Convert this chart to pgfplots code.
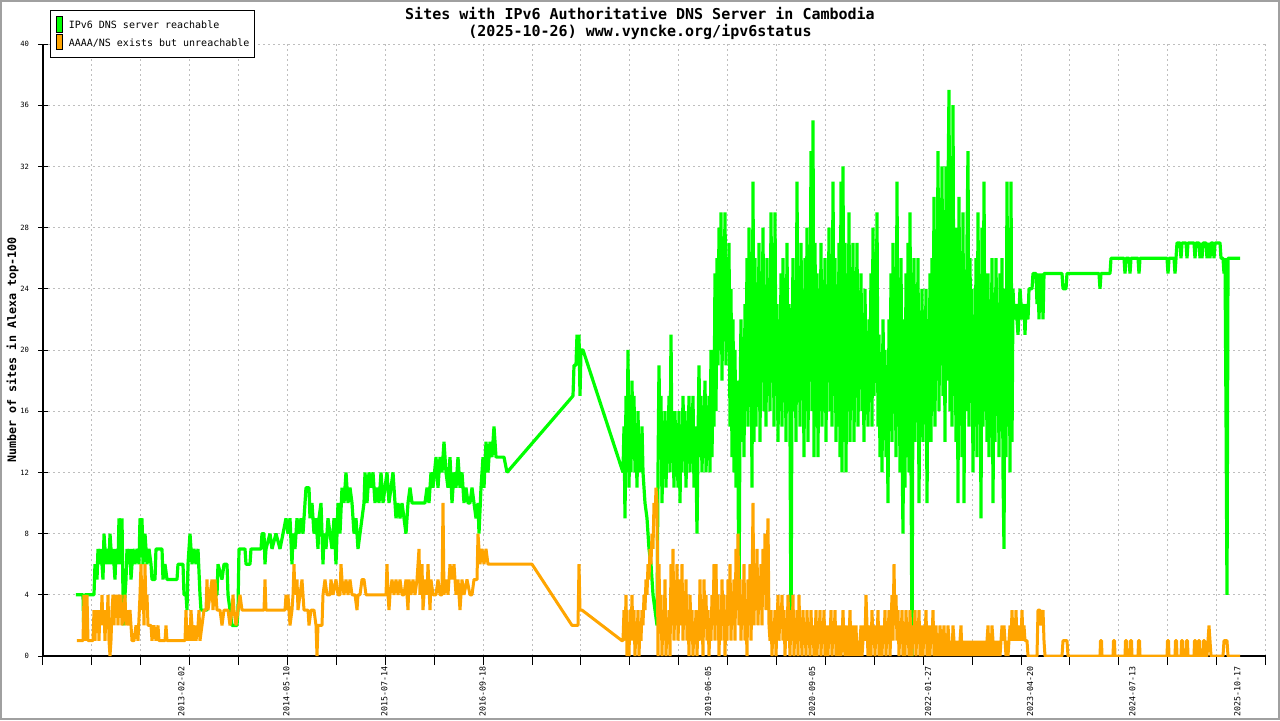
\documentclass[border=0pt]{standalone}
\usepackage{fontspec}
\setmainfont{DejaVu Sans Mono}
\usepackage{pgfplots}
\pgfplotsset{compat=1.18}
\usepackage{pgfplotstable}
\definecolor{dnsgreen}{RGB}{0,255,0}
\definecolor{dnsorange}{RGB}{255,165,0}
\definecolor{gridgray}{RGB}{190,190,190}
\definecolor{framegray}{RGB}{160,160,160}

% x = position on the time axis, y = number of sites
\pgfplotstableread[row sep=\\]{
x y\\
76 4\\ 83 4\\ 84 1\\ 85 4\\ 94 4\\ 95 6\\ 97 5\\ 98 7\\ 100 6\\ 101 7\\ 103 5\\ 104 8\\ 106 6\\ 107 7\\ 109 6\\ 110 8\\ 112 6\\ 113 7\\ 115 5\\ 116 7\\ 118 6\\ 119 9\\ 121 6\\ 122 9\\ 123 4\\ 124 2\\ 125 4\\ 126 5\\ 127 7\\ 129 6\\ 130 7\\ 131 5\\ 133 7\\ 135 6\\ 137 7\\ 139 6\\ 140 9\\ 141 8\\ 142 9\\ 143 6\\ 145 8\\ 147 6\\ 149 7\\ 151 6\\ 152 5\\ 155 5\\ 156 7\\ 162 7\\ 163 5\\ 165 6\\ 167 5\\ 177 5\\ 178 6\\ 183 6\\ 184 4\\ 186 4\\ 187 3\\ 188 6\\ 190 8\\ 192 6\\ 194 7\\ 196 6\\ 198 7\\ 200 4\\ 201 3\\ 207 3\\ 208 4\\ 217 4\\ 218 6\\ 222 5\\ 224 6\\ 227 6\\ 228 4\\ 230 3\\ 232 2\\ 237 2\\ 238 3\\ 239 7\\ 245 7\\ 246 6\\ 250 6\\ 251 7\\ 261 7\\ 262 8\\ 264 8\\ 265 6\\ 266 7\\ 270 8\\ 272 7\\ 276 8\\ 280 7\\ 283 8\\ 286 9\\ 288 8\\ 290 9\\ 292 6\\ 293 8\\ 295 7\\ 297 9\\ 299 8\\ 301 9\\ 303 8\\ 305 10\\ 306 11\\ 309 11\\ 310 9\\ 312 10\\ 314 8\\ 316 9\\ 318 7\\ 319 9\\ 321 10\\ 322 8\\ 323 6\\ 324 8\\ 326 7\\ 328 9\\ 330 8\\ 332 7\\ 334 9\\ 336 6\\ 337 8\\ 338 10\\ 340 8\\
342 11\\ 344 10\\ 346 12\\ 348 10\\ 350 11\\ 352 10\\ 354 8\\ 356 9\\ 358 7\\ 360 8\\ 362 9\\ 364 10\\ 365 12\\ 367 10\\ 369 12\\ 371 11\\ 373 12\\ 375 10\\ 377 11\\ 379 10\\ 381 12\\ 383 10\\ 385 11\\ 387 12\\ 389 10\\ 391 11\\ 393 12\\ 395 10\\ 396 9\\ 398 10\\ 400 9\\ 402 10\\ 404 9\\ 406 8\\ 408 10\\ 410 11\\ 412 10\\ 425 10\\ 427 11\\ 429 10\\ 431 12\\ 433 11\\ 436 13\\ 438 11\\ 440 13\\ 442 12\\ 444 14\\ 446 12\\ 448 11\\ 450 13\\ 452 10\\ 454 12\\ 456 11\\ 458 13\\ 460 11\\ 462 12\\ 464 10\\ 466 11\\ 468 10\\ 470 10\\ 472 11\\ 474 10\\ 476 9\\ 478 10\\ 479 8\\ 481 11\\ 483 13\\ 484 11\\ 486 14\\ 488 12\\ 490 14\\ 492 13\\ 494 15\\ 496 13\\ 504 13\\ 507 12\\
573 17\\ 574 19\\ 576 19\\ 577 21\\ 578 19\\ 579 21\\ 580 17\\ 581 20\\ 583 20\\ 623 12\\
624 15\\ 625 9\\ 626 17\\ 627 12\\ 628 20\\ 629 11\\ 630 16\\ 631 12\\ 632 18\\ 633 13\\ 634 17\\ 635 12\\ 636 15\\ 637 11\\ 638 16\\ 639 12\\ 640 14\\ 641 12\\ 642 15\\ 643 12\\ 645 10\\ 647 9\\ 649 7\\ 651 6\\ 653 4\\ 655 3\\ 657 2\\ 658 12\\ 659 19\\ 660 13\\
661 17\\ 662 10\\ 663 14\\ 664 12\\ 665 16\\ 666 11\\ 667 15\\ 668 13\\ 669 17\\ 670 12\\ 671 21\\ 672 13\\ 673 15\\ 674 11\\ 675 16\\ 676 12\\ 677 14\\ 678 11\\ 679 16\\ 680 10\\ 681 15\\ 682 12\\ 683 17\\ 684 13\\ 685 16\\ 686 11\\ 687 15\\ 688 13\\ 689 17\\ 690 12\\ 691 16\\ 692 14\\ 693 17\\ 694 11\\ 695 15\\ 696 13\\ 697 8\\ 698 14\\ 699 19\\ 700 13\\ 701 17\\ 702 12\\ 703 16\\ 704 14\\ 705 18\\ 706 12\\ 707 15\\ 708 13\\ 709 17\\ 710 12\\ 711 20\\ 712 13\\ 713 19\\ 714 15\\ 715 25\\ 716 16\\ 717 26\\ 718 19\\ 719 28\\
720 20\\ 721 29\\ 722 18\\ 723 27\\ 724 22\\ 725 29\\ 726 19\\ 727 25\\ 728 21\\ 729 27\\ 730 15\\ 731 24\\ 732 13\\ 733 22\\ 734 12\\ 735 20\\ 736 11\\ 737 18\\ 738 12\\ 739 3\\ 740 16\\ 741 22\\ 742 14\\ 743 20\\ 744 13\\ 745 23\\ 746 16\\ 747 26\\ 748 15\\ 749 28\\ 750 17\\ 751 24\\ 752 11\\ 753 31\\ 754 14\\ 755 26\\ 756 15\\ 757 24\\ 758 17\\ 759 27\\ 760 14\\ 761 25\\ 762 18\\ 763 28\\ 764 16\\ 765 22\\ 766 15\\ 767 26\\ 768 17\\ 769 24\\ 770 16\\ 771 29\\ 772 18\\ 773 27\\ 774 15\\ 775 29\\ 776 17\\ 777 23\\ 778 14\\ 779 22\\ 780 16\\ 781 25\\ 782 15\\ 783 26\\ 784 17\\ 785 24\\ 786 14\\ 787 27\\ 788 16\\ 789 23\\ 790 15\\ 791 1\\ 792 18\\ 793 26\\
794 16\\ 795 24\\ 796 14\\ 797 31\\ 798 17\\ 799 25\\ 800 15\\ 801 27\\ 802 19\\ 803 23\\ 804 13\\ 805 26\\ 806 16\\ 807 28\\ 808 14\\ 809 24\\ 810 18\\ 811 33\\ 812 16\\ 813 35\\ 814 13\\ 815 27\\ 816 17\\ 817 25\\ 818 13\\ 819 24\\ 820 16\\ 821 27\\ 822 15\\ 823 22\\ 824 17\\ 825 26\\ 826 14\\ 827 24\\ 828 18\\ 829 28\\ 830 16\\ 831 23\\ 832 15\\ 833 31\\ 834 17\\ 835 26\\ 836 14\\ 837 24\\ 838 15\\ 839 27\\ 840 13\\
841 31\\ 842 12\\ 843 32\\ 844 14\\ 845 27\\ 846 12\\ 847 25\\ 848 16\\ 849 29\\ 850 14\\ 851 24\\ 852 17\\ 853 27\\ 854 14\\ 855 23\\ 856 17\\ 857 27\\ 858 15\\ 859 22\\ 860 18\\ 861 25\\ 862 16\\ 863 21\\ 864 14\\ 865 24\\ 866 17\\ 867 20\\ 868 15\\ 869 22\\ 870 18\\ 871 25\\ 872 15\\ 873 28\\ 874 17\\ 875 23\\ 876 18\\ 877 29\\ 878 15\\ 879 21\\ 880 13\\ 881 19\\ 882 12\\ 883 22\\ 884 16\\ 885 20\\ 886 13\\ 887 18\\ 888 10\\ 889 22\\ 890 15\\ 891 25\\ 892 14\\ 893 27\\ 894 16\\ 895 24\\ 896 13\\ 897 31\\ 898 15\\ 899 23\\ 900 12\\ 901 26\\ 902 14\\ 903 8\\ 904 22\\ 905 11\\ 906 25\\ 907 13\\ 908 27\\ 909 12\\ 910 29\\ 911 13\\ 912 0\\ 913 20\\
914 26\\ 915 14\\ 916 23\\ 917 16\\ 918 26\\ 919 10\\ 920 21\\ 921 15\\ 922 24\\ 923 14\\ 924 22\\ 925 17\\ 926 24\\ 927 10\\ 928 20\\ 929 15\\ 930 25\\ 931 14\\ 932 26\\ 933 16\\ 934 30\\ 935 15\\ 936 27\\ 937 18\\ 938 33\\ 939 16\\ 940 28\\ 941 19\\ 942 32\\ 943 17\\ 944 29\\ 945 14\\ 946 32\\ 947 18\\ 948 30\\ 949 37\\ 950 16\\ 951 27\\ 952 15\\ 953 36\\ 954 17\\ 955 25\\ 956 14\\ 957 28\\ 958 10\\ 959 30\\ 960 16\\ 961 26\\ 962 13\\ 963 29\\ 964 10\\ 965 24\\ 966 16\\ 967 27\\ 968 33\\ 969 15\\ 970 26\\ 971 17\\ 972 24\\ 973 12\\ 974 22\\ 975 15\\ 976 26\\ 977 13\\ 978 29\\ 979 16\\ 980 24\\ 981 9\\ 982 28\\ 983 15\\ 984 31\\ 985 16\\ 986 23\\ 987 14\\ 988 25\\ 989 13\\ 990 22\\ 991 16\\ 992 26\\ 993 10\\ 994 21\\ 995 14\\ 996 26\\ 997 17\\ 998 23\\ 999 13\\ 1000 25\\ 1001 16\\ 1002 26\\ 1003 12\\ 1004 7\\ 1005 24\\ 1006 13\\ 1007 31\\ 1008 15\\ 1009 27\\ 1010 12\\ 1011 31\\ 1012 14\\ 1013 24\\
1014 22\\ 1016 23\\ 1018 21\\ 1020 24\\ 1022 22\\ 1024 23\\ 1025 21\\ 1026 23\\ 1028 22\\ 1029 24\\ 1032 24\\ 1033 25\\ 1036 25\\ 1037 23\\ 1038 25\\ 1039 22\\ 1040 25\\ 1041 23\\ 1042 25\\ 1043 22\\ 1044 25\\ 1062 25\\ 1063 24\\ 1066 24\\ 1067 25\\ 1099 25\\ 1100 24\\ 1101 25\\ 1110 25\\ 1111 26\\ 1124 26\\ 1125 25\\ 1126 26\\ 1129 26\\ 1130 25\\ 1131 26\\ 1138 26\\ 1139 25\\ 1140 26\\ 1167 26\\ 1168 25\\ 1169 26\\ 1174 26\\ 1175 25\\ 1176 26\\ 1177 27\\ 1180 27\\ 1181 26\\ 1182 27\\ 1186 27\\ 1187 26\\ 1188 27\\ 1194 27\\ 1195 26\\ 1196 27\\ 1199 27\\ 1200 26\\ 1201 27\\ 1202 26\\ 1203 27\\ 1206 27\\ 1207 26\\ 1208 27\\ 1210 26\\ 1211 27\\ 1213 27\\ 1214 26\\ 1215 27\\ 1220 27\\ 1221 26\\ 1223 26\\ 1224 25\\ 1225 26\\ 1226 16\\ 1227 4\\ 1228 26\\ 1240 26\\
}\reachable

\pgfplotstableread[row sep=\\]{
x y\\
77 1\\ 83 1\\ 84 4\\ 85 1\\ 87 4\\ 88 1\\ 93 1\\ 94 3\\ 95 1\\ 96 3\\ 97 2\\ 98 3\\ 99 1\\ 100 3\\ 101 2\\ 102 4\\ 103 2\\ 104 3\\ 105 1\\ 106 3\\ 107 2\\ 108 4\\ 109 1\\ 110 0\\ 111 1\\ 112 3\\ 113 4\\ 114 2\\ 115 4\\ 116 3\\ 117 4\\ 118 2\\ 119 4\\ 120 3\\ 121 4\\ 122 2\\ 124 3\\ 125 4\\ 126 2\\ 127 3\\ 128 2\\ 130 3\\ 131 2\\ 132 1\\ 134 1\\ 136 2\\ 138 1\\ 140 4\\ 141 6\\ 142 3\\ 143 5\\ 144 2\\ 145 6\\ 146 3\\ 147 4\\ 148 2\\ 151 2\\ 152 1\\ 154 2\\ 156 1\\ 158 2\\ 159 1\\ 165 1\\ 166 2\\ 167 1\\ 185 1\\ 186 3\\ 187 1\\ 189 2\\ 190 1\\ 191 3\\ 193 1\\ 195 2\\ 196 1\\ 198 2\\ 199 3\\ 200 1\\ 202 2\\ 204 3\\ 206 3\\ 207 5\\ 208 3\\ 210 4\\ 212 5\\ 213 3\\ 215 5\\ 217 3\\ 220 3\\ 222 2\\ 224 3\\ 228 3\\ 230 2\\ 232 3\\ 233 4\\ 234 3\\ 236 2\\ 238 3\\ 240 4\\ 242 3\\ 264 3\\ 265 5\\ 266 3\\ 285 3\\ 286 4\\ 287 3\\ 288 4\\ 290 2\\ 292 3\\ 293 4\\ 294 6\\ 295 4\\ 297 5\\ 298 3\\ 300 4\\ 302 5\\ 304 3\\ 308 3\\ 309 2\\ 311 3\\ 314 3\\ 316 2\\ 317 0\\ 318 2\\ 322 2\\ 323 4\\ 325 5\\ 327 4\\ 330 4\\ 331 5\\ 333 4\\ 336 5\\ 338 4\\ 340 4\\
341 6\\ 342 5\\ 344 4\\ 346 5\\ 348 4\\ 350 5\\ 352 4\\ 355 4\\ 357 3\\ 358 4\\ 360 4\\ 362 5\\ 364 5\\ 366 4\\ 386 4\\ 387 6\\ 388 4\\ 389 3\\ 390 4\\ 392 5\\ 394 4\\ 396 5\\ 398 4\\ 400 5\\ 402 4\\ 404 4\\ 406 5\\ 408 3\\ 409 5\\ 411 4\\ 413 5\\ 415 4\\ 417 5\\ 419 7\\ 420 4\\ 422 6\\ 423 3\\ 425 5\\ 427 4\\ 428 6\\ 430 3\\ 431 5\\ 433 4\\ 436 4\\ 438 5\\ 440 4\\ 442 4\\ 443 10\\ 444 4\\ 446 5\\ 448 4\\ 450 6\\ 452 5\\ 454 6\\ 456 4\\ 458 5\\ 460 3\\ 462 5\\ 464 4\\ 467 5\\ 470 4\\ 472 4\\ 474 5\\ 477 5\\ 478 8\\ 479 7\\ 480 6\\ 482 7\\ 484 6\\ 486 7\\ 488 6\\ 490 6\\ 532 6\\ 572 2\\ 578 2\\ 579 6\\ 580 3\\ 582 3\\ 622 1\\ 623 1\\
624 3\\ 625 1\\ 626 4\\ 627 0\\ 628 2\\ 629 0\\ 630 3\\ 631 1\\ 632 4\\ 633 1\\ 634 3\\ 635 0\\ 636 2\\ 637 1\\ 638 3\\ 639 0\\ 640 2\\ 641 1\\ 642 3\\ 643 2\\ 644 4\\ 645 3\\ 646 5\\ 647 4\\ 648 6\\ 649 5\\ 650 7\\ 651 6\\ 652 8\\ 653 7\\ 654 10\\ 655 9\\ 656 11\\ 657 10\\ 658 0\\ 659 6\\ 660 2\\
661 4\\ 662 0\\ 663 3\\ 664 1\\ 665 5\\ 666 0\\ 667 2\\ 668 1\\ 669 3\\ 670 0\\ 671 6\\ 672 2\\ 673 7\\ 674 1\\ 675 4\\ 676 2\\ 677 6\\ 678 1\\ 679 3\\ 680 5\\ 681 2\\ 682 6\\ 683 1\\ 684 4\\ 685 2\\ 686 5\\ 687 1\\ 688 3\\ 689 0\\ 690 4\\ 691 2\\ 692 3\\ 693 0\\ 694 2\\ 695 1\\ 696 3\\ 697 0\\ 698 2\\ 699 1\\ 700 5\\ 701 1\\ 702 3\\ 703 0\\ 704 5\\ 705 2\\ 706 4\\ 707 1\\ 708 3\\ 709 0\\ 710 2\\ 711 1\\ 712 4\\ 713 2\\ 714 6\\ 715 1\\ 716 6\\ 717 2\\ 718 4\\ 719 0\\ 720 3\\ 721 1\\ 722 5\\ 723 2\\ 724 4\\ 725 0\\ 726 3\\ 727 1\\ 728 5\\ 729 2\\ 730 6\\ 731 1\\ 732 4\\ 733 2\\ 734 5\\ 735 1\\ 736 7\\ 737 3\\ 738 8\\ 739 2\\ 740 5\\ 741 1\\ 742 4\\ 743 2\\ 744 6\\ 745 1\\ 746 3\\ 747 0\\ 748 5\\ 749 2\\ 750 6\\ 751 1\\ 752 4\\ 753 10\\ 754 2\\ 755 6\\ 756 3\\ 757 7\\ 758 2\\ 759 5\\ 760 3\\ 761 6\\ 762 2\\ 763 7\\ 764 4\\ 765 8\\ 766 3\\ 767 6\\ 768 9\\ 769 2\\ 770 1\\ 771 3\\ 772 0\\ 773 2\\ 774 1\\ 775 3\\ 776 0\\ 777 2\\ 778 4\\ 779 1\\ 780 3\\ 781 2\\ 782 4\\ 783 1\\ 784 3\\ 785 0\\ 786 2\\ 787 1\\ 788 4\\ 789 2\\ 790 0\\ 791 3\\ 792 1\\ 793 4\\ 794 0\\ 795 2\\ 796 1\\ 797 3\\ 798 0\\ 799 4\\ 800 1\\ 801 2\\ 802 0\\ 803 3\\ 804 1\\ 805 2\\ 806 0\\ 807 3\\ 808 1\\ 809 2\\ 810 0\\ 811 3\\ 812 1\\ 813 2\\ 814 0\\ 815 1\\ 816 3\\ 817 0\\ 818 2\\ 819 1\\ 820 3\\ 821 0\\ 822 2\\ 823 1\\ 824 3\\ 825 0\\ 826 2\\ 827 1\\ 828 0\\ 829 2\\ 830 1\\ 831 3\\ 832 0\\ 833 2\\ 834 1\\ 835 3\\ 836 0\\ 837 2\\ 838 1\\ 839 0\\ 840 2\\
841 0\\ 842 1\\ 843 3\\ 844 1\\ 845 0\\ 846 2\\ 847 1\\ 848 0\\ 849 1\\ 850 3\\ 851 0\\ 852 1\\ 853 2\\ 854 0\\ 855 1\\ 856 2\\ 857 0\\ 858 1\\ 859 0\\ 860 1\\ 861 2\\ 862 0\\ 863 1\\ 864 2\\ 865 1\\ 866 4\\ 867 2\\ 868 0\\ 869 1\\ 870 2\\ 871 0\\ 872 3\\ 873 1\\ 874 2\\ 875 0\\ 876 2\\ 877 1\\ 878 3\\ 879 0\\ 880 2\\ 881 1\\ 882 0\\ 883 2\\ 884 1\\ 885 3\\ 886 0\\ 887 2\\ 888 1\\ 889 3\\ 890 0\\ 891 2\\ 892 4\\ 893 1\\ 894 6\\ 895 2\\ 896 4\\ 897 1\\ 898 3\\ 899 0\\ 900 2\\ 901 1\\ 902 3\\ 903 0\\ 904 1\\ 905 0\\ 906 3\\ 907 1\\ 908 2\\ 909 0\\ 910 3\\ 911 1\\ 912 0\\ 913 2\\ 914 1\\ 915 3\\ 916 0\\ 917 2\\ 918 1\\ 919 3\\ 920 0\\ 921 2\\ 922 1\\ 923 0\\ 924 2\\ 925 1\\ 926 3\\ 927 0\\ 928 2\\ 929 1\\ 930 0\\ 931 2\\ 932 1\\ 933 3\\ 934 0\\ 935 1\\ 936 2\\ 937 0\\ 938 1\\ 939 0\\ 940 2\\ 941 1\\ 942 0\\ 943 1\\ 944 2\\ 945 0\\ 946 1\\ 947 0\\ 948 2\\ 949 1\\ 950 0\\ 951 1\\ 952 0\\ 953 2\\ 954 1\\ 955 0\\ 956 1\\ 957 0\\ 958 1\\ 959 0\\ 960 1\\ 961 2\\ 962 0\\ 963 1\\ 964 0\\ 965 1\\ 966 0\\ 967 1\\ 968 0\\ 969 1\\ 970 0\\ 971 1\\ 972 0\\ 973 1\\ 974 0\\ 975 1\\ 976 0\\ 977 1\\ 978 0\\ 979 1\\ 980 0\\ 981 1\\ 982 0\\ 983 1\\ 984 0\\ 985 1\\ 986 0\\ 987 1\\ 988 2\\ 989 0\\ 990 1\\ 991 0\\ 992 2\\ 993 1\\ 994 0\\ 995 1\\ 996 0\\ 997 1\\ 998 0\\ 999 1\\ 1000 0\\ 1001 1\\ 1002 2\\ 1003 1\\ 1004 2\\ 1005 1\\ 1006 0\\ 1007 1\\ 1008 0\\ 1009 1\\ 1010 2\\ 1011 1\\ 1012 3\\ 1013 1\\
1014 2\\ 1015 1\\ 1016 3\\ 1017 1\\ 1018 2\\ 1019 1\\ 1020 2\\ 1021 1\\ 1022 3\\ 1023 1\\ 1024 2\\ 1025 1\\ 1027 1\\ 1028 0\\ 1037 0\\ 1038 3\\ 1040 3\\ 1041 2\\ 1043 3\\ 1044 1\\ 1045 0\\ 1062 0\\ 1063 1\\ 1067 1\\ 1068 0\\ 1100 0\\ 1100.5 1\\ 1101.5 1\\ 1102 0\\ 1113 0\\ 1113.5 1\\ 1114.5 1\\ 1115 0\\ 1125 0\\ 1125.5 1\\ 1126.5 1\\ 1127 0\\ 1130 0\\ 1130.5 1\\ 1131.5 1\\ 1132 0\\ 1138 0\\ 1138.5 1\\ 1139.5 1\\ 1140 0\\ 1167 0\\ 1167.5 1\\ 1168.5 1\\ 1169 0\\ 1175 0\\ 1175.5 1\\ 1176.5 1\\ 1177 0\\ 1181 0\\ 1181.5 1\\ 1182.5 1\\ 1183 0\\ 1186 0\\ 1186.5 1\\ 1187.5 1\\ 1188 0\\ 1194 0\\ 1194.5 1\\ 1195.5 1\\ 1196 0\\ 1198 0\\ 1198.5 1\\ 1199.5 1\\ 1200 0\\ 1203 0\\ 1203.5 1\\ 1204.5 1\\ 1205 0\\ 1207 0\\ 1208 1\\ 1209 2\\ 1210 1\\ 1211 0\\ 1223 0\\ 1224 1\\ 1227 1\\ 1228 0\\ 1240 0\\
}\unreachable

\begin{document}
\begin{tikzpicture}[x=1pt,y=1pt]
\useasboundingbox (0,0) rectangle (640,360);
\begin{axis}[
    at={(21.5pt,32pt)},
    anchor=south west,
    scale only axis,
    width=611.3pt,
    height=306pt,
    xmin=43, xmax=1265.6,
    ymin=0, ymax=40,
    axis lines=left,
    axis line style={-, black, line width=0.6pt},
    tick style={black, line width=0.5pt},
    tick align=center,
    major tick length=4.6pt,
    xtick style={yshift=-2.3pt},
    xtick={43,91.9,...,1266},
    xticklabels={},
    ytick={0,4,...,40},
    /pgf/number format/assume math mode=true,
    yticklabel style={font=\fontsize{3.6pt}{4pt}\selectfont, inner sep=0pt, xshift=-4.5pt},
    extra x ticks={181.3,286.4,384.3,482.6,708,812.2,928,1030,1132.4,1237.4},
    extra x tick labels={2013-02-02,2014-05-10,2015-07-14,2016-09-18,2019-06-05,2020-09-05,2022-01-27,2023-04-20,2024-07-13,2025-10-17},
    extra x tick style={grid=none, major tick length=0pt,
        xticklabel style={rotate=90, anchor=east, inner xsep=5pt, inner ysep=0pt,
            font=\fontsize{4.15pt}{5pt}\selectfont}},
    grid=major,
    major grid style={gridgray, line width=0.5pt, dash pattern=on 1pt off 1.5pt},
]
\addplot[dnsgreen, line width=1.6pt, line join=bevel] table {\reachable};
\addplot[dnsorange, line width=1.5pt, line join=bevel] table {\unreachable};
\end{axis}

% title
\node[font=\bfseries\fontsize{7.5pt}{9pt}\selectfont, inner sep=0pt] at (320,353.2)
    {Sites with IPv6 Authoritative DNS Server in Cambodia};
\node[font=\bfseries\fontsize{7.5pt}{9pt}\selectfont, inner sep=0pt] at (320,344.2)
    {(2025-10-26) www.vyncke.org/ipv6status};
% y label
\node[rotate=90, font=\bfseries\fontsize{5.85pt}{7pt}\selectfont, inner sep=0pt] at (6.25,185)
    {Number of sites in Alexa top-100};

% legend
\draw[black, line width=0.5pt, fill=white] (25,355) rectangle (127,331.5);
\filldraw[fill=dnsgreen, draw=black, line width=0.5pt] (28,351.7) rectangle (31.3,343.7);
\filldraw[fill=dnsorange, draw=black, line width=0.5pt] (28,342.8) rectangle (31.3,335.3);
\node[anchor=west, inner sep=0pt, font=\fontsize{5pt}{6pt}\selectfont] at (34.2,347.4) {IPv6 DNS server reachable};
\node[anchor=west, inner sep=0pt, font=\fontsize{5pt}{6pt}\selectfont] at (34.2,338.6) {AAAA/NS exists but unreachable};

% frame
\draw[framegray, line width=1pt] (0.5,0.5) rectangle (639.5,359.5);
\end{tikzpicture}
\end{document}
